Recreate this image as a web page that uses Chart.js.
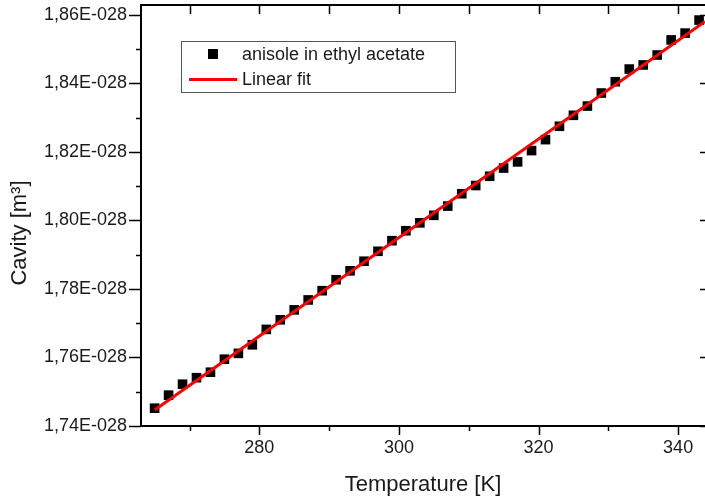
<!DOCTYPE html>
<html>
<head>
<meta charset="utf-8">
<script src="https://cdn.jsdelivr.net/npm/chart.js@4/dist/chart.umd.min.js"></script>
<style>
  html, body { margin: 0; padding: 0; background: #fff; }
  #wrap { width: 705px; height: 499px; position: relative; }
</style>
</head>
<body>
<div id="wrap"><canvas id="c"></canvas></div>
<script>
'use strict';

// ── Data (cavity in units of 1E-028 m³) ──────────────────────────
const temperature = [265, 267, 269, 271, 273, 275, 277, 279, 281, 283,
                     285, 287, 289, 291, 293, 295, 297, 299, 301, 303,
                     305, 307, 309, 311, 313, 315, 317, 319, 321, 323,
                     325, 327, 329, 331, 333, 335, 337, 339, 341, 343];
const cavity = [1.7452, 1.7490, 1.7522, 1.7541, 1.7557, 1.7595, 1.7612, 1.7637, 1.7682, 1.7710,
                1.7739, 1.7768, 1.7795, 1.7827, 1.7853, 1.7881, 1.7910, 1.7941, 1.7970, 1.7993,
                1.8015, 1.8042, 1.8078, 1.8102, 1.8129, 1.8153, 1.8171, 1.8204, 1.8236, 1.8275,
                1.8307, 1.8334, 1.8372, 1.8405, 1.8442, 1.8454, 1.8483, 1.8527, 1.8547, 1.8585];
const fitT = [265, 343.85];
const fitCavity = [1.7447, 1.8581];
const xTickVals = [280, 300, 320, 340];
const yTickVals = [1.74, 1.76, 1.78, 1.80, 1.82, 1.84, 1.86];

const FONT = '"Liberation Sans", Arial, sans-serif';
const INK = '#1a1a1a';

// ── Frame + ticks on all four sides ──────────────────────────────
const framePlugin = {
  id: 'frame',
  afterDatasetsDraw(chart) {
    const { ctx, chartArea: a, scales: { x, y } } = chart;
    ctx.save();
    ctx.strokeStyle = '#000';
    ctx.lineWidth = 2;
    ctx.strokeRect(a.left, a.top, a.right - a.left + 2, a.bottom - a.top);

    ctx.lineWidth = 1.5;
    const xs = (v) => Math.round(x.getPixelForValue(v)) + 0.5;
    const ys = (v) => Math.round(y.getPixelForValue(v)) + 0.5;
    const line = (x1, y1, x2, y2) => { ctx.beginPath(); ctx.moveTo(x1, y1); ctx.lineTo(x2, y2); ctx.stroke(); };

    // x: majors every 20, minors halfway
    const xStep = xTickVals[1] - xTickVals[0];
    for (let v = xTickVals[0] - xStep / 2; v <= x.max; v += xStep / 2) {
      if (v < x.min) continue;
      const major = xTickVals.includes(v);
      line(xs(v), a.bottom, xs(v), a.bottom + (major ? 9 : 5));
      line(xs(v), a.top, xs(v), a.top + 9);
    }
    // y: majors every 0.02, minors halfway
    const yStep = yTickVals[1] - yTickVals[0];
    for (let i = 0; i < yTickVals.length; i++) {
      const v = yTickVals[i];
      line(a.left - 12, ys(v), a.left, ys(v));
      line(a.right - 5, ys(v), a.right, ys(v));
      const m = v + yStep / 2;
      if (m < y.max) line(a.left - 5, ys(m), a.left, ys(m));
    }

    // y title sits a little below the plot centre in the reference
    ctx.save();
    ctx.translate(20, 233);
    ctx.rotate(-Math.PI / 2);
    ctx.fillStyle = INK;
    ctx.font = `22px ${FONT}`;
    ctx.textAlign = 'center';
    ctx.textBaseline = 'middle';
    ctx.fillText('Cavity [m³]', 0, 0);
    ctx.restore();
    ctx.restore();
  },
};

// ── Boxed legend inside the plot ─────────────────────────────────
const legendPlugin = {
  id: 'boxLegend',
  afterDraw(chart) {
    const ctx = chart.ctx;
    const [fit, pts] = chart.data.datasets;
    ctx.save();
    ctx.fillStyle = '#fff';
    ctx.fillRect(181, 41, 274, 51);
    ctx.strokeStyle = '#555';
    ctx.lineWidth = 1;
    ctx.strokeRect(181.5, 41.5, 274, 51);

    ctx.fillStyle = pts.backgroundColor;
    ctx.fillRect(208, 49, 10, 10);
    ctx.strokeStyle = fit.borderColor;
    ctx.lineWidth = fit.borderWidth;
    ctx.beginPath(); ctx.moveTo(189, 79.5); ctx.lineTo(237, 79.5); ctx.stroke();

    ctx.fillStyle = INK;
    ctx.font = `18px ${FONT}`;
    ctx.textBaseline = 'middle';
    ctx.fillText(pts.label, 242, 55);
    ctx.fillText(fit.label, 242, 80);
    ctx.restore();
  },
};

// ── Chart ────────────────────────────────────────────────────────
new Chart(document.getElementById('c'), {
  type: 'scatter',
  data: {
    datasets: [
      {
        label: 'Linear fit',
        type: 'line',
        data: fitT.map((t, i) => ({ x: t, y: fitCavity[i] })),
        borderColor: '#ff0000',
        borderWidth: 3,
        pointRadius: 0,
        fill: false,
        order: 0,
      },
      {
        label: 'anisole in ethyl acetate',
        data: temperature.map((t, i) => ({ x: t, y: cavity[i] })),
        pointStyle: 'rect',
        pointRadius: 6.8,
        backgroundColor: '#000',
        borderColor: '#000',
        borderWidth: 0,
        order: 1,
      },
    ],
  },
  options: {
    responsive: true,
    maintainAspectRatio: false,
    animation: false,
    devicePixelRatio: 1,
    layout: { autoPadding: false, padding: { top: 5, right: 0, left: 0, bottom: 0 } },
    plugins: { legend: { display: false }, tooltip: { enabled: false } },
    scales: {
      x: {
        type: 'linear',
        min: 263.05,
        max: 343.85,
        grid: { display: false, drawTicks: false },
        border: { display: false },
        afterBuildTicks: (s) => { s.ticks = xTickVals.map((v) => ({ value: v })); },
        afterFit: (s) => { s.height = 73; s.paddingLeft = 0; s.paddingRight = 0; },
        ticks: {
          color: INK, padding: 11, maxRotation: 0, autoSkip: false,
          font: { family: FONT, size: 18 },
          callback: (v) => String(v),
        },
        title: {
          display: true, text: 'Temperature [K]', color: INK,
          font: { family: FONT, size: 22 }, padding: { top: 0, bottom: 1 },
        },
      },
      y: {
        min: 1.74,
        max: 1.8629,
        grid: { display: false, drawTicks: false },
        border: { display: false },
        afterBuildTicks: (s) => { s.ticks = yTickVals.map((v) => ({ value: v })); },
        afterFit: (s) => { s.width = 141; s.paddingTop = 0; s.paddingBottom = 0; },
        ticks: {
          color: INK, padding: 14, autoSkip: false,
          font: { family: FONT, size: 18 },
          callback: (v) => v.toFixed(2).replace('.', ',') + 'E-028',
        },
      },
    },
  },
  plugins: [framePlugin, legendPlugin],
});
</script>
</body>
</html>
